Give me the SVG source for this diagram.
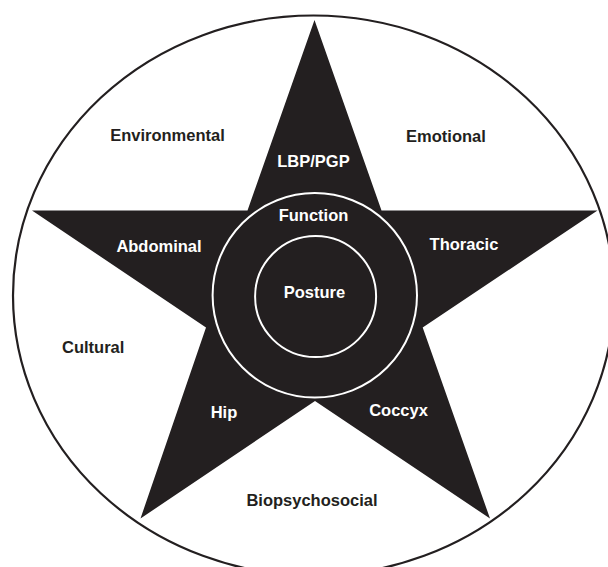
<svg xmlns="http://www.w3.org/2000/svg" width="608" height="567" viewBox="0 0 608 567">
  <style>
    .lbl { font-family: "Liberation Sans", Arial, Helvetica, sans-serif; font-size: 16.5px; font-weight: bold; text-anchor: middle; }
    .dark { fill: #231f20; }
    .light { fill: #ffffff; }
    .ring { fill: none; stroke: #ffffff; stroke-width: 2; }
  </style>
  <rect width="608" height="567" fill="#ffffff"/>

  <!-- outer boundary -->
  <g id="boundary">
    <ellipse cx="313.5" cy="295.5" rx="300.5" ry="280" fill="none" stroke="#231f20" stroke-width="2.2"/>
  </g>

  <!-- five-pointed star -->
  <g id="star">
    <polygon class="dark" points="314.5,20 381.5,210.5 597.5,210.5 422.7,327.5 490,518.5 315,401 140.5,518.5 206,327.5 32,210.5 247.5,210.5"/>
  </g>

  <!-- concentric rings -->
  <g id="function-ring">
    <circle class="ring" cx="314.8" cy="295.3" r="102.2"/>
  </g>
  <g id="posture-ring">
    <circle class="ring" cx="315.6" cy="296.6" r="60.5"/>
  </g>

  <!-- labels on the star -->
  <g id="star-labels">
    <text class="lbl light" x="313.5" y="166.5">LBP/PGP</text>
    <text class="lbl light" x="313.5" y="220.5">Function</text>
    <text class="lbl light" x="314.5" y="298">Posture</text>
    <text class="lbl light" x="159" y="251.5">Abdominal</text>
    <text class="lbl light" x="464" y="249.5">Thoracic</text>
    <text class="lbl light" x="224" y="418.3">Hip</text>
    <text class="lbl light" x="398.5" y="415.7">Coccyx</text>
  </g>

  <!-- labels around the star -->
  <g id="context-labels">
    <text class="lbl dark" x="167.5" y="141">Environmental</text>
    <text class="lbl dark" x="446" y="141.7">Emotional</text>
    <text class="lbl dark" x="93.2" y="353.3">Cultural</text>
    <text class="lbl dark" x="312" y="505.7">Biopsychosocial</text>
  </g>
</svg>
